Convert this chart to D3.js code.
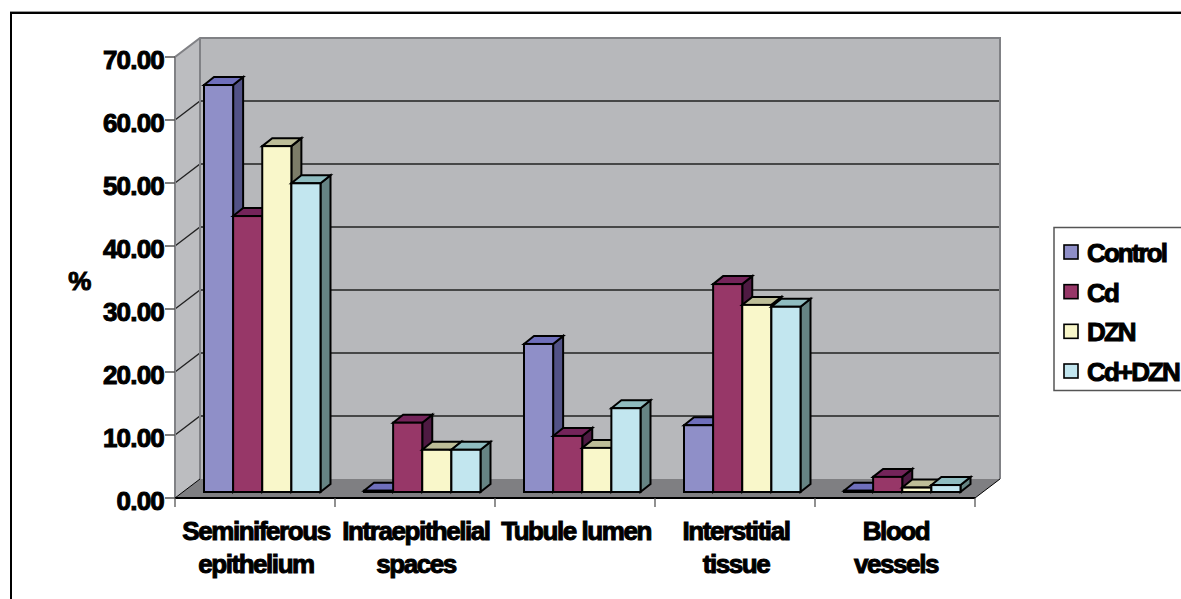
<!DOCTYPE html>
<html>
<head>
  <meta charset="utf-8">
  <title>Testis compartments</title>
  <script src="https://d3js.org/d3.v7.min.js"></script>
  <style>
    html, body { margin: 0; padding: 0; background: #fff; }
    svg { display: block; }
    text {
      font-family: "Liberation Sans", Arial, sans-serif;
      font-weight: bold;
      font-size: 26px;
      letter-spacing: -1.45px;
      fill: #000;
      stroke: #000;
      stroke-width: 1px;
    }
    text.num { letter-spacing: -0.8px; }
    text.leg { letter-spacing: -1.9px; }
  </style>
</head>
<body>
<script>
var categories = [["Seminiferous", "epithelium"], ["Intraepithelial", "spaces"], ["Tubule lumen"], ["Interstitial", "tissue"], ["Blood", "vessels"]];
var seriesNames = ["Control", "Cd", "DZN", "Cd+DZN"];
var control = [64.6, 0.2, 23.5, 10.6, 0.2];
var cd = [43.8, 11.0, 8.9, 33.0, 2.4];
var dzn = [54.9, 6.7, 7.0, 29.7, 0.7];
var cdDzn = [49.0, 6.7, 13.3, 29.4, 1.1];
var yTicks = [0, 10, 20, 30, 40, 50, 60, 70];
var seriesValues = [control, cd, dzn, cdDzn];
var front = ["#8f8fc8", "#973768", "#f9f7ca", "#c2e6ef"];
var topFace = ["#6f6fbb", "#74245a", "#bdbd98", "#8fbcc0"];
var side = ["#525287", "#4e1a42", "#7c7c68", "#668484"];

var width = 1181, height = 599;
var svg = d3.select("body").append("svg").attr("width", width).attr("height", height);

// chart frame
svg.append("line").attr("x1", 10).attr("x2", 1181).attr("y1", 11.5).attr("y2", 11.5)
  .attr("stroke", "#999").attr("stroke-width", 1);
svg.append("rect").attr("x", 11).attr("y", 13).attr("width", 1180).attr("height", 600)
  .attr("fill", "#fff").attr("stroke", "#000").attr("stroke-width", 2);

var x = d3.scaleBand().domain(d3.range(categories.length)).range([175, 975]);
var y = d3.scaleLinear().domain([0, 70]).range([498, 57]);
var dx = 25, dy = -19;   // depth of the box
var barDx = 10, barDy = -8; // depth of a bar
var offX = 7.5, offY = -6;  // bars sit a bit behind the front edge

var line = d3.line();

// back wall, side wall, floor
svg.append("path").attr("fill", "#b7b8bb").attr("stroke", "none")
  .attr("d", line([[175 + dx, y(70) + dy], [975 + dx, y(70) + dy], [975 + dx, y(0) + dy], [175 + dx, y(0) + dy]]) + "Z");
svg.append("path").attr("fill", "#bcbdc0").attr("stroke", "none")
  .attr("d", line([[175, y(70)], [175 + dx, y(70) + dy], [175 + dx, y(0) + dy], [175, y(0)]]) + "Z");
svg.append("path").attr("fill", "#7f7f82").attr("stroke", "none")
  .attr("d", line([[175, y(0)], [175 + dx, y(0) + dy], [975 + dx, y(0) + dy], [975, y(0)]]) + "Z");

// grid lines
var grid = svg.append("g");
grid.selectAll("path").data(yTicks.slice(1, -1)).enter().append("path")
  .attr("fill", "none").attr("stroke", "#222").attr("stroke-width", 1.3)
  .attr("d", function(d) { return line([[175, y(d)], [175 + dx, y(d) + dy], [975 + dx, y(d) + dy]]); });

// wall outlines
var wallLine = "#808185";
svg.append("path").attr("fill", "none").attr("stroke", wallLine).attr("stroke-width", 2)
  .attr("d", line([[175, y(0)], [175, y(70)], [175 + dx, y(70) + dy], [975 + dx, y(70) + dy], [975 + dx, y(0) + dy]]));
svg.append("path").attr("fill", "none").attr("stroke", wallLine).attr("stroke-width", 2)
  .attr("d", line([[175 + dx, y(70) + dy], [175 + dx, y(0) + dy]]));
svg.append("path").attr("fill", "none").attr("stroke", "#000").attr("stroke-width", 1)
  .attr("d", line([[175 + dx, y(0) + dy], [175, y(0)]]) + "M" + (975 + dx) + "," + (y(0) + dy) + "L975," + y(0));
svg.append("path").attr("fill", "none").attr("stroke", "#000").attr("stroke-width", 2)
  .attr("d", line([[175, y(0)], [975, y(0)]]));

// axis ticks
svg.append("g").selectAll("line").data(yTicks).enter().append("line")
  .attr("x1", 165).attr("x2", 175).attr("y1", y).attr("y2", y)
  .attr("stroke", "#555").attr("stroke-width", 1.5);
svg.append("g").selectAll("line").data(d3.range(categories.length + 1)).enter().append("line")
  .attr("x1", function(d) { return 175 + d * x.bandwidth(); })
  .attr("x2", function(d) { return 175 + d * x.bandwidth(); })
  .attr("y1", y(0)).attr("y2", y(0) + 9)
  .attr("stroke", "#555").attr("stroke-width", 1.3);

// bars
var inner = d3.scaleBand().domain(d3.range(seriesNames.length)).range([21.5, 138]);
var cols = svg.append("g").selectAll("g").data(categories).enter().append("g");
cols.each(function(c, ci) {
  var g = d3.select(this);
  seriesNames.forEach(function(name, si) {
    var v = seriesValues[si][ci];
    var l = x(ci) + inner(si) + offX, r = l + inner.bandwidth();
    var b = y(0) + offY, t = y(v) + offY;
    var bar = g.append("g").attr("stroke", "#000").attr("stroke-width", 2).attr("stroke-linejoin", "miter");
    bar.append("path").attr("fill", side[si])
      .attr("d", line([[r, t], [r + barDx, t + barDy], [r + barDx, b + barDy], [r, b]]) + "Z");
    bar.append("path").attr("fill", topFace[si])
      .attr("d", line([[l, t], [l + barDx, t + barDy], [r + barDx, t + barDy], [r, t]]) + "Z");
    bar.append("rect").attr("x", l).attr("y", t).attr("width", r - l).attr("height", b - t)
      .attr("fill", front[si]);
  });
});

// y labels
svg.append("g").selectAll("text").data(yTicks).enter().append("text")
  .attr("class", "num")
  .attr("x", 164).attr("y", function(d) { return y(d) + 11.5; })
  .attr("text-anchor", "end")
  .text(function(d) { return d.toFixed(2); });
svg.append("text").attr("x", 79).attr("y", 290).attr("text-anchor", "middle").text("%");

// category labels
var labels = svg.append("g").selectAll("text").data(categories).enter().append("text")
  .attr("text-anchor", "middle");
labels.each(function(c, i) {
  var cx = x(i) + x.bandwidth() / 2 + 1;
  d3.select(this).selectAll("tspan").data(c).enter().append("tspan")
    .attr("x", cx)
    .attr("y", function(d, k) { return 540 + k * 33; })
    .text(function(d) { return d; });
});

// legend
var legend = svg.append("g");
legend.append("rect").attr("x", 1054).attr("y", 227.5).attr("width", 140).attr("height", 163)
  .attr("fill", "#fff").attr("stroke", "#555").attr("stroke-width", 1.5);
var legendY = d3.scalePoint().domain(seriesNames).range([253, 372]);
var items = legend.selectAll("g").data(seriesNames).enter().append("g");
items.append("rect").attr("x", 1064).attr("y", function(d) { return legendY(d) - 8; })
  .attr("width", 14).attr("height", 14)
  .attr("fill", function(d, i) { return front[i]; })
  .attr("stroke", "#000").attr("stroke-width", 1.6);
items.append("text").attr("class", "leg").attr("x", 1087).attr("y", function(d) { return legendY(d) + 9; })
  .text(function(d) { return d; });
</script>
</body>
</html>
